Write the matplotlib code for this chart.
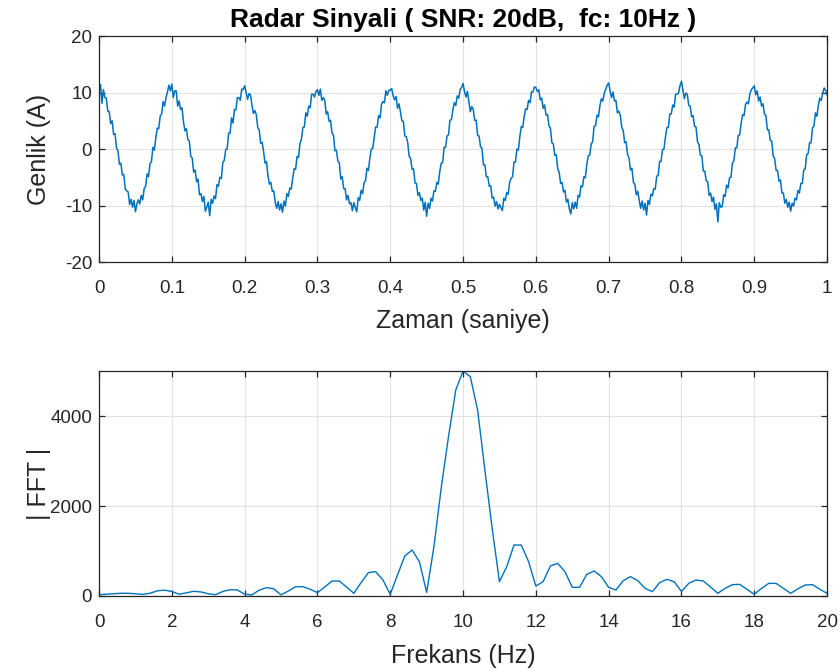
import numpy as np
import matplotlib.pyplot as plt

# radar sinyali, 1 saniye (500 ornek)
genlik = [
    10.4, 11.4, 8.1, 10.5, 9.1, 9.0, 6.7, 6.6, 4.5, 5.0, 2.6, 2.7, 0.2, -0.3, -2.7, -2.5, -4.6, -4.5, -7.1, -7.4,
    -7.6, -9.8, -8.9, -10.3, -9.1, -11.1, -9.7, -9.0, -9.7, -8.2, -9.0, -7.0, -6.6, -4.4, -4.9, -2.6, -2.2, 0.3, -0.2, 2.0,
    3.7, 3.6, 5.8, 6.2, 8.4, 7.6, 9.1, 10.1, 11.3, 10.3,
    11.5, 9.1, 10.3, 10.3, 7.6, 8.5, 7.0, 7.3, 4.8, 3.2, 3.6, 1.7, 1.4, -1.3, -1.6, -4.1, -3.7, -5.8, -5.3, -8.1,
    -7.9, -9.3, -8.4, -11.0, -10.3, -9.4, -11.8, -8.9, -9.6, -8.3, -8.8, -6.3, -6.6, -5.0, -5.2, -2.4, -2.0, -0.1, 0.0, 2.8,
    2.8, 5.5, 4.6, 7.0, 6.9, 9.1, 9.1, 8.6, 10.6, 10.5,
    11.2, 10.1, 8.8, 9.8, 9.6, 7.8, 6.3, 6.8, 6.1, 3.8, 3.4, 1.0, 1.2, -0.4, -2.5, -2.2, -4.7, -6.2, -5.9, -7.5,
    -7.4, -9.4, -10.5, -9.3, -10.8, -9.7, -11.2, -9.2, -10.1, -7.9, -8.4, -6.9, -7.1, -5.2, -3.5, -3.6, -1.3, -1.5, 1.0, 1.7,
    3.8, 3.9, 6.4, 5.8, 7.6, 7.3, 9.7, 9.7, 9.2, 10.2,
    10.5, 9.5, 10.6, 8.6, 9.1, 8.7, 6.2, 6.6, 4.9, 5.1, 2.8, 2.5, -0.3, -0.2, -2.1, -2.4, -5.3, -4.9, -7.0, -7.0,
    -9.0, -8.2, -9.7, -9.5, -10.9, -9.5, -10.4, -11.1, -8.6, -9.1, -7.3, -7.9, -6.0, -5.6, -3.4, -3.8, -1.6, 0.0, 0.1, 2.1,
    3.9, 3.9, 5.9, 5.5, 7.9, 8.4, 8.2, 10.3, 9.5, 10.4,
    10.4, 10.7, 9.4, 8.7, 9.3, 7.2, 8.0, 6.6, 5.0, 4.9, 2.3, 2.2, 1.1, -1.3, -1.7, -3.6, -3.5, -6.0, -6.1, -8.2,
    -7.7, -9.1, -8.7, -10.8, -9.4, -11.9, -9.6, -10.5, -8.7, -9.2, -7.4, -7.5, -5.9, -6.2, -4.0, -2.5, -2.4, 0.3, 0.3, 2.3,
    2.5, 5.1, 5.2, 6.9, 8.2, 7.7, 9.4, 9.0, 10.5, 10.9,
    11.6, 10.2, 9.2, 10.2, 8.4, 6.6, 7.5, 7.0, 5.1, 5.1, 2.4, 2.3, 0.4, 0.1, -2.8, -2.8, -4.9, -4.9, -6.6, -6.5,
    -8.7, -8.5, -10.1, -9.3, -10.6, -9.8, -10.4, -10.9, -8.7, -9.1, -7.7, -8.0, -5.9, -5.2, -4.9, -2.3, -2.3, 0.0, -0.2, 2.2,
    4.0, 3.8, 5.8, 7.1, 7.0, 8.6, 8.2, 10.1, 10.1, 11.0,
    10.9, 10.2, 10.5, 8.7, 9.0, 7.2, 7.8, 6.0, 6.1, 4.1, 3.7, 1.1, 0.9, -1.1, -1.0, -3.5, -4.1, -6.1, -5.9, -7.6,
    -7.3, -9.4, -8.9, -10.6, -11.5, -9.5, -10.6, -9.4, -10.5, -8.2, -8.5, -6.5, -6.7, -4.9, -5.1, -2.7, -1.2, -1.1, 0.9, 1.3,
    4.0, 4.1, 6.0, 5.7, 7.7, 8.9, 8.5, 9.9, 10.6, 11.3,
    11.7, 10.3, 9.1, 10.1, 8.5, 8.6, 6.4, 6.7, 6.0, 3.8, 3.3, 1.1, 1.3, -1.0, -1.6, -3.7, -3.4, -5.9, -6.2, -8.1,
    -7.5, -9.1, -10.5, -9.2, -10.8, -9.6, -11.7, -9.1, -9.8, -8.0, -8.3, -7.0, -7.1, -4.8, -4.7, -2.2, -2.2, -0.1, 0.0, 2.1,
    3.8, 3.8, 6.2, 6.2, 7.8, 7.4, 9.7, 9.7, 9.9, 11.2,
    12.0, 10.4, 8.9, 9.9, 9.7, 7.7, 7.6, 5.7, 5.9, 4.0, 3.9, 1.3, 0.8, -1.1, -1.2, -3.9, -3.9, -5.6, -5.8, -8.2,
    -7.8, -9.3, -8.5, -10.7, -9.7, -12.9, -9.5, -10.3, -10.2, -8.1, -8.4, -6.4, -6.9, -5.1, -5.0, -2.5, -2.1, 0.2, 0.2, 2.4,
    2.5, 4.6, 6.1, 5.9, 7.9, 8.3, 8.0, 9.8, 10.5, 10.8,
    11.2, 9.6, 10.3, 8.5, 9.2, 7.6, 8.0, 6.2, 5.9, 3.4, 3.4, 1.5, 1.4, -1.2, -1.7, -3.8, -3.8, -5.7, -5.5, -7.8,
    -7.8, -9.6, -8.9, -10.3, -9.4, -11.0, -9.6, -10.1, -8.7, -9.0, -7.3, -7.8, -6.1, -6.1, -3.7, -3.5, -1.0, -0.8, 1.1, 1.1,
    3.8, 4.0, 6.4, 5.8, 7.7, 9.0, 8.6, 9.9, 10.8, 10.4,
    9.6,
]
zaman = np.linspace(0, 1, len(genlik))

# |FFT| genligi, 0-20 Hz, 0.2 Hz adim
fft_genlik = [
    30, 40, 50, 60, 60, 50, 35, 60, 115, 130,
    100, 40, 70, 105, 90, 50, 30, 100, 140, 135,
    40, 25, 130, 185, 160, 25, 110, 207, 207, 150,
    74, 200, 333, 333, 200, 59, 300, 519, 541, 356,
    37, 470, 889, 1022, 763, 81, 1096, 2400, 3541, 4578,
    5000, 4874, 4133, 2800, 1500, 318, 652, 1133, 1133, 763,
    222, 318, 667, 726, 541, 193, 193, 481, 556, 430,
    193, 133, 341, 430, 341, 170, 96, 296, 370, 318,
    100, 281, 355, 333, 200, 59, 170, 252, 259, 150,
    37, 170, 281, 281, 170, 59, 160, 244, 252, 150,
    59,
]
frekans = np.linspace(0, 20, len(fft_genlik))

x1_ticks = [0, 0.1, 0.2, 0.3, 0.4, 0.5, 0.6, 0.7, 0.8, 0.9, 1]
x1_labels = ['0', '0.1', '0.2', '0.3', '0.4', '0.5', '0.6', '0.7', '0.8', '0.9', '1']
y1_ticks = [-20, -10, 0, 10, 20]
x2_ticks = [0, 2, 4, 6, 8, 10, 12, 14, 16, 18, 20]
y2_ticks = [0, 2000, 4000]

plt.rcParams['font.family'] = ['Liberation Sans', 'DejaVu Sans']
plt.rcParams['axes.unicode_minus'] = False
mavi = '#0072BD'
eksen = '#262626'

fig = plt.figure(figsize=(8.4, 6.72), dpi=100)
ax1 = fig.add_axes([0.1179, 0.6101, 0.8667, 0.3363])
ax2 = fig.add_axes([0.1179, 0.1131, 0.8667, 0.3348])


def duzenle(ax, xlabel, ylabel, xlabel_y):
    ax.grid(True, color='#e2e2e2', linewidth=0.8)
    ax.set_axisbelow(True)
    for s in ax.spines.values():
        s.set_color(eksen)
        s.set_linewidth(0.9)
    ax.tick_params(direction='in', top=True, right=True, length=4.5, width=0.9,
                   color=eksen, labelcolor=eksen, labelsize=13.5)
    ax.tick_params(axis='x', pad=13)
    ax.tick_params(axis='y', pad=5)
    ax.set_xlabel(xlabel, fontsize=18, color=eksen, va='center')
    ax.set_ylabel(ylabel, fontsize=18, color=eksen, va='center')
    ax.xaxis.set_label_coords(0.5, xlabel_y)
    ax.yaxis.set_label_coords(-0.083, 0.5)


ax1.plot(zaman, genlik, color=mavi, linewidth=1.1)
ax1.set_xlim(0, 1)
ax1.set_ylim(-20, 20)
ax1.set_xticks(x1_ticks)
ax1.set_xticklabels(x1_labels)
ax1.set_yticks(y1_ticks)
duzenle(ax1, 'Zaman (saniye)', 'Genlik (A)', -0.262)
ax1.set_title('Radar Sinyali ( SNR: 20dB,  fc: 10Hz )', fontsize=19, fontweight='bold',
              y=1.072, va='center', pad=0)

ax2.plot(frekans, fft_genlik, color=mavi, linewidth=1.0)
ax2.set_xlim(0, 20)
ax2.set_ylim(0, 5000)
ax2.set_xticks(x2_ticks)
ax2.set_yticks(y2_ticks)
duzenle(ax2, 'Frekans (Hz)', '| FFT |', -0.266)

fig.savefig('out.png', dpi=100)
